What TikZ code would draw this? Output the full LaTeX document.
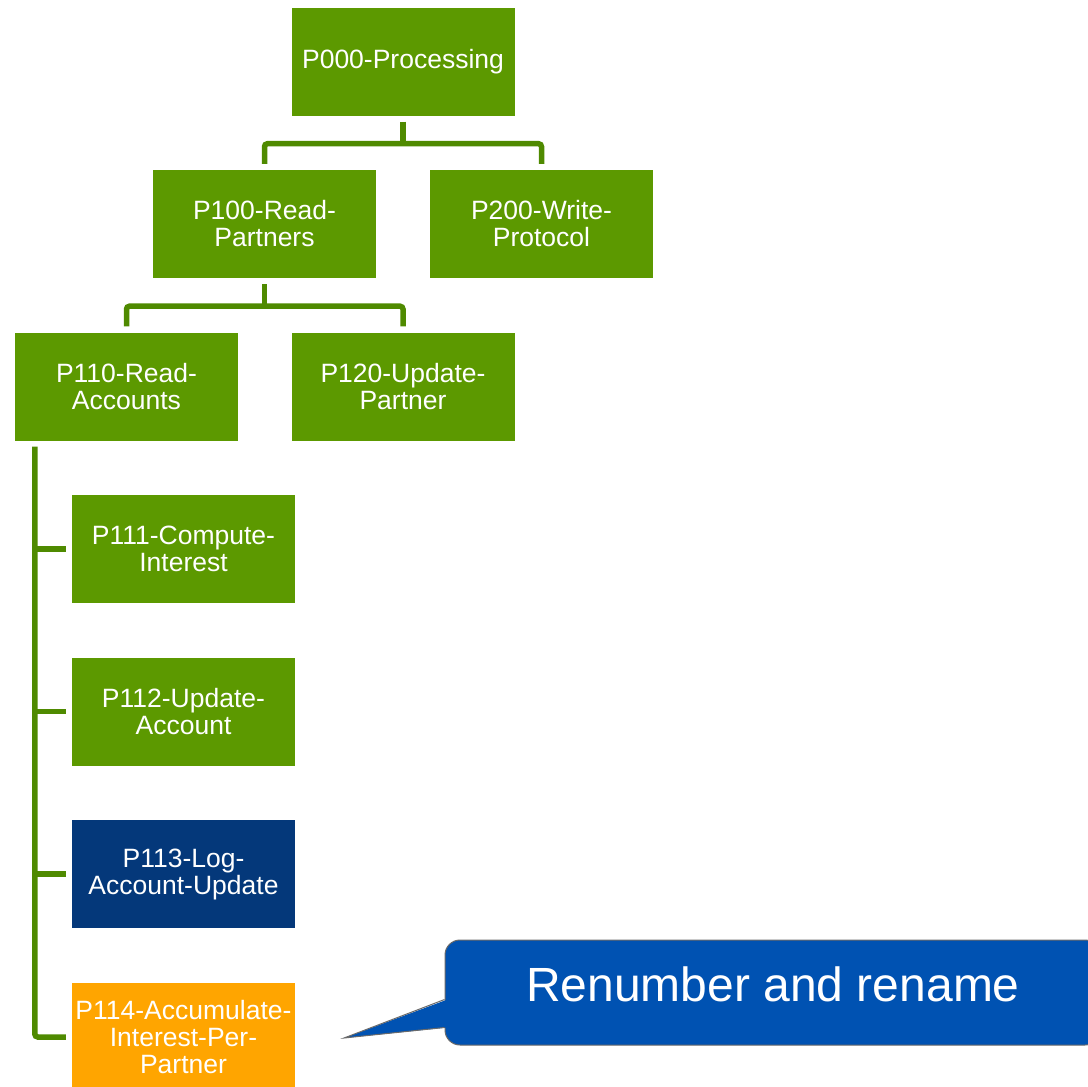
\documentclass[tikz,border=0pt]{standalone}
\usepackage{fontspec}
\setmainfont{Liberation Sans}
\usetikzlibrary{calc}
\definecolor{boxgreen}{HTML}{5C9900}
\definecolor{linegreen}{HTML}{4F8A00}
\definecolor{navy}{HTML}{04387A}
\definecolor{amber}{HTML}{FFA500}
\definecolor{noteblue}{HTML}{0052B2}
\definecolor{noteedge}{HTML}{6A6A6A}
\tikzset{
  proc/.style={fill=boxgreen, text=white, minimum width=223pt, minimum height=108pt,
    inner sep=0pt, align=center, font=\fontsize{26.5pt}{27pt}\selectfont},
  conn/.style={draw=linegreen, line width=5.5pt, rounded corners=3pt},
  note/.style={fill=noteblue, draw=noteedge, line width=1pt, rounded corners=15pt,
    minimum width=655pt, minimum height=105pt, inner sep=0pt}
}
\begin{document}
\begin{tikzpicture}[x=1pt,y=-1pt]
\useasboundingbox (0,0) rectangle (1088,1087);
\clip (0,0) rectangle (1088,1087);

% process boxes
\node[proc] (p000) at (403,61.5) {P000-Processing};
\node[proc] (p100) at (264.5,224) {P100-Read-\\Partners};
\node[proc] (p200) at (541.5,224) {P200-Write-\\Protocol};
\node[proc] (p110) at (126.5,386.5) {P110-Read-\\Accounts};
\node[proc] (p120) at (403,386.5) {P120-Update-\\Partner};
\node[proc] (p111) at (183.5,549) {P111-Compute-\\Interest};
\node[proc] (p112) at (183.5,711.5) {P112-Update-\\Account};
\node[proc, fill=navy] (p113) at (183.5,874) {P113-Log-\\Account-Update};
\node[proc, fill=amber] (p114) at (183.5,1037) {P114-Accumulate-\\Interest-Per-\\Partner};

% tree connectors
\draw[conn] ([yshift=-6pt]p000.south) -- ([yshift=-28pt]p000.south);
\draw[conn] ([yshift=6pt]p100.north) |- ([yshift=-28pt]p000.south) -| ([yshift=6pt]p200.north);
\draw[conn] ([yshift=-6pt]p100.south) -- ([yshift=-28pt]p100.south);
\draw[conn] ([yshift=6pt]p110.north) |- ([yshift=-28pt]p100.south) -| ([yshift=6pt]p120.north);

\coordinate (trunk) at ([xshift=20pt,yshift=-6pt]p110.south west);
\draw[conn] (trunk) |- ([xshift=-6pt]p114.west);
\draw[conn, rounded corners=0pt] (trunk |- p111.west) -- ([xshift=-6pt]p111.west);
\draw[conn, rounded corners=0pt] (trunk |- p112.west) -- ([xshift=-6pt]p112.west);
\draw[conn, rounded corners=0pt] (trunk |- p113.west) -- ([xshift=-6pt]p113.west);

% callout
\node[note] (note) at (772.5,992.5) {};
\node[text=white, font=\fontsize{48pt}{50pt}\selectfont] (notetext) at (773,984) {Renumber and rename};
\coordinate (tip) at (344,1038);
\coordinate (ja) at ([yshift=-7pt]note.west);
\coordinate (jb) at ([yshift=-35pt]note.west);
\fill[noteblue] (tip) -- ([xshift=3pt]ja) -- ([xshift=3pt]jb) -- cycle;
\draw[noteedge, line width=1pt] (ja) -- (tip) -- (jb);
\end{tikzpicture}
\end{document}
